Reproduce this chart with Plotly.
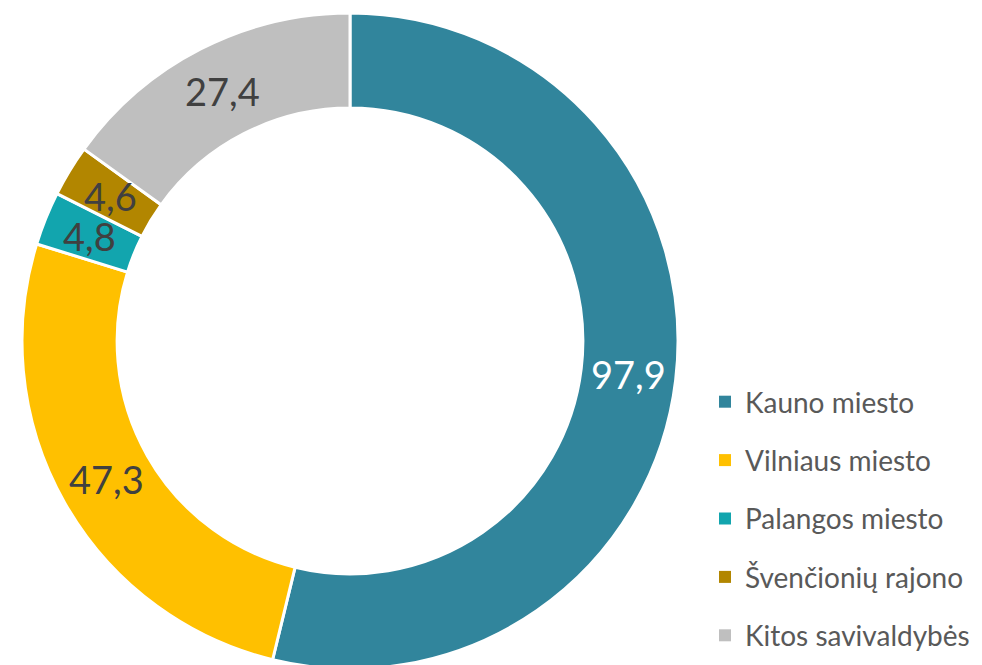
import math
import plotly.graph_objects as go

# data
labels = ['Kauno miesto', 'Vilniaus miesto', 'Palangos miesto', 'Švenčionių rajono', 'Kitos savivaldybės']
values = [97.9, 47.3, 4.8, 4.6, 27.4]
colors = ['#31859C', '#FFC000', '#12A5AE', '#B28600', '#BFBFBF']
text_colors = ['#FFFFFF', '#404040', '#404040', '#404040', '#404040']

W, H = 982, 665
cx, cy, R = 342, 333, 328   # pixel centre / outer radius of the donut
HOLE = 0.71

fig = go.Figure()
fig.add_trace(go.Pie(
    labels=labels,
    values=values,
    sort=False,
    direction='clockwise',
    rotation=0,
    hole=HOLE,
    marker=dict(colors=colors, line=dict(color='white', width=3)),
    textinfo='none',
    showlegend=False,
    hoverinfo='label+value',
    domain=dict(x=[(cx - R) / W, (cx + R) / W], y=[1 - (cy + R) / H, 1 - (cy - R) / H]),
))

# data labels at mid-angle, mid-ring
total = sum(values)
cum = 0
r_mid = R * (1 + HOLE) / 2
for v, c in zip(values, text_colors):
    ang = (cum + v / 2) / total * 2 * math.pi
    cum += v
    px_ = cx + r_mid * math.sin(ang)
    py_ = cy - r_mid * math.cos(ang)
    fig.add_annotation(
        x=px_ / W, y=1 - py_ / H, xref='paper', yref='paper',
        xanchor='center', yanchor='middle',
        text=f'{v:.1f}'.replace('.', ','), showarrow=False,
        font=dict(size=38, color=c, family='Lato'),
    )

# legend via dummy traces (so spacing between entries can be set)
for i, (lab, col) in enumerate(zip(labels, colors)):
    fig.add_trace(go.Scatter(
        x=[None], y=[None], mode='markers', name=lab,
        marker=dict(symbol='square', size=12, color=col),
        legendgroup=str(i), showlegend=True,
    ))

fig.update_layout(
    width=W, height=H,
    margin=dict(l=0, r=0, t=0, b=0),
    paper_bgcolor='white',
    plot_bgcolor='white',
    font=dict(family='Lato', color='#595959'),
    xaxis=dict(visible=False),
    yaxis=dict(visible=False),
    legend=dict(
        x=697 / W, y=1 - 369 / H, xanchor='left', yanchor='top',
        font=dict(size=28, color='#595959', family='Lato'),
        tracegroupgap=19,
        bgcolor='rgba(0,0,0,0)',
    ),
)

fig.write_html('out.html')
